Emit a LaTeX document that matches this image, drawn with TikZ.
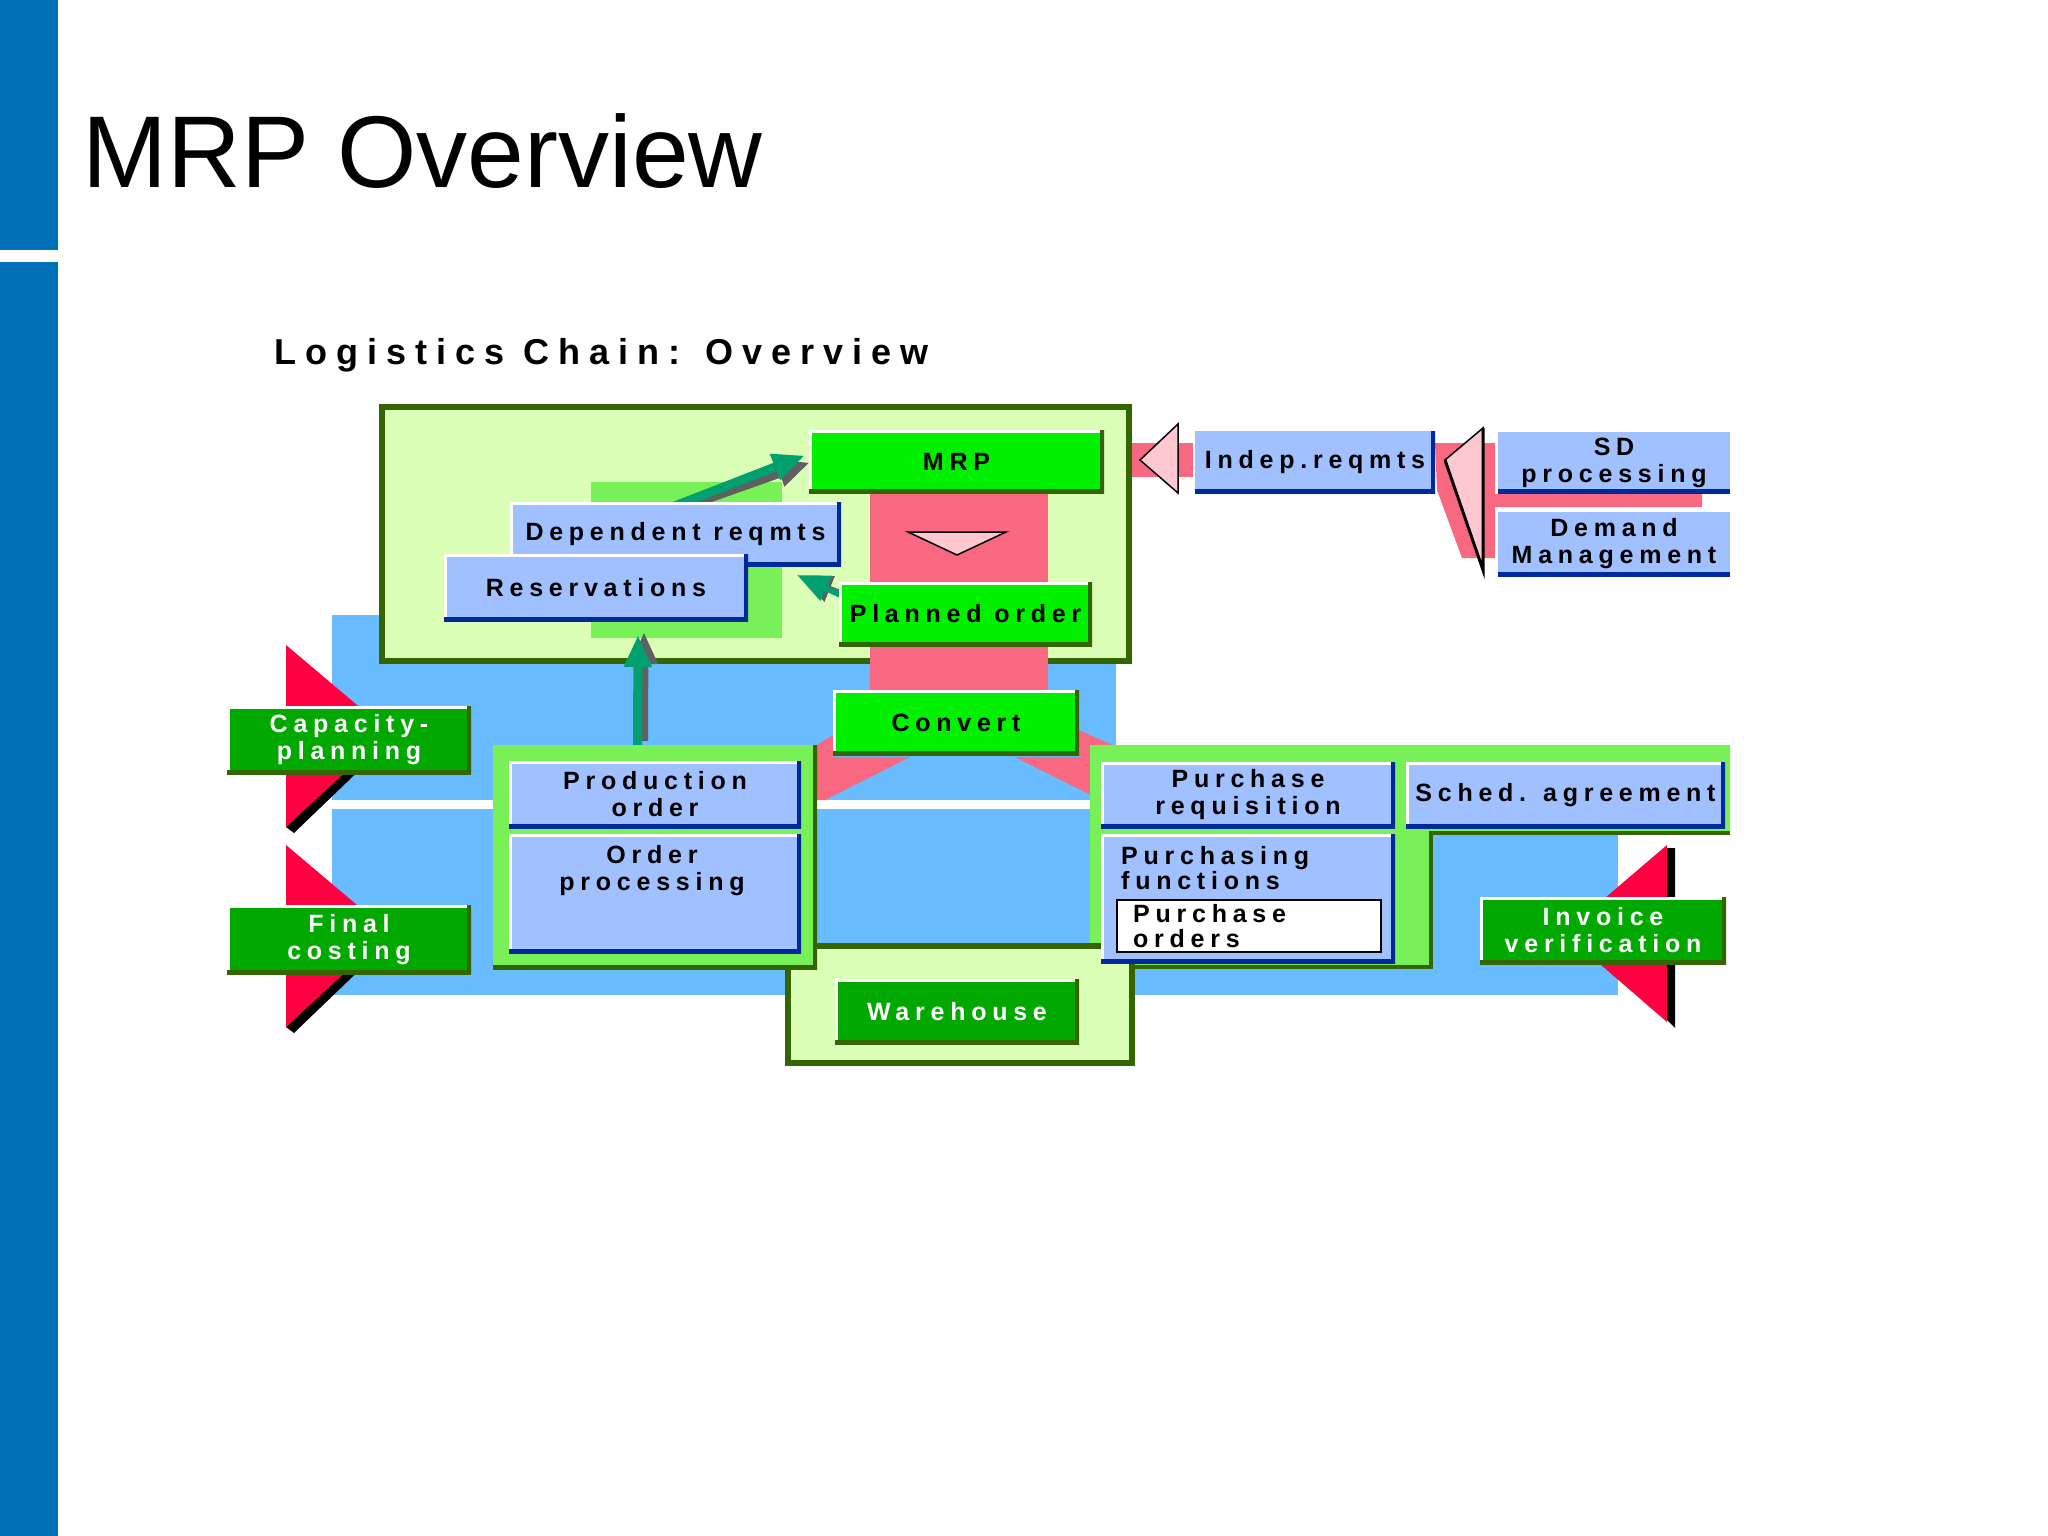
\documentclass[tikz,border=0pt]{standalone}
\usepackage{fontspec}
\setmainfont{Liberation Sans}
\newfontfamily\boxfont[LetterSpace=23]{Liberation Sans}
\newfontfamily\chainfont[LetterSpace=25]{Liberation Sans}
\usetikzlibrary{arrows.meta}

\pgfdeclarelayer{back}
\pgfdeclarelayer{links}
\pgfsetlayers{back,links,main}

\definecolor{sidebar}{HTML}{0070B8}
\definecolor{sky}{HTML}{68BCFF}
\definecolor{rose}{HTML}{F86880}
\definecolor{blush}{HTML}{FFC8D0}
\definecolor{crimson}{HTML}{FF0040}
\definecolor{pale}{HTML}{DCFFB8}
\definecolor{midgreen}{HTML}{78F058}
\definecolor{edge}{HTML}{336600}
\definecolor{bright}{HTML}{00F000}
\definecolor{deep}{HTML}{00A800}
\definecolor{panel}{HTML}{A0C0FF}
\definecolor{navy}{HTML}{002A9A}
\definecolor{teal}{HTML}{00A070}
\definecolor{slate}{HTML}{606060}

\tikzset{
  size/.style 2 args={minimum width=#1pt,minimum height=#2pt},
  bevel/.style 2 args={path picture={
    \draw[#1,line width=6pt] (path picture bounding box.south west)
      -- (path picture bounding box.north west) -- (path picture bounding box.north east);
    \draw[#2,line width=9pt] (path picture bounding box.south west)
      -- (path picture bounding box.south east) -- (path picture bounding box.north east);
  }},
  box/.style={inner sep=0pt,align=center,font=\boxfont\bfseries\fontsize{25}{27}\selectfont},
  panelbox/.style={box,fill=panel,bevel={white}{navy}},
  flatbox/.style={box,fill=panel,path picture={
    \draw[navy,line width=9pt] (path picture bounding box.south west)
      -- (path picture bounding box.south east);
  }},
  brightbox/.style={box,fill=bright,bevel={white}{edge}},
  deepbox/.style={box,fill=deep,text=white,bevel={white}{edge}},
  frame/.style={draw=edge,fill=pale,line width=6pt,inner sep=0pt},
  block/.style={fill=midgreen,inner sep=0pt,bevel={midgreen}{edge}},
  marker/.style={draw=black,fill=blush,line width=1.5pt,line join=miter},
  flow/.style={teal,line width=9pt,-{Triangle[length=32pt,width=26pt]}},
  flowshade/.style={slate,line width=9pt,-{Triangle[length=32pt,width=26pt]}},
  note/.style={inner sep=0pt,anchor=west,align=left,font=\boxfont\bfseries\fontsize{25}{25}\selectfont}
}

\begin{document}
\begin{tikzpicture}[x=1pt,y=-1pt]
  \useasboundingbox (0,0) rectangle (2048,1536);

  \begin{pgfonlayer}{back}
    % slide
    \fill[sidebar] (0,0) rectangle (57.5,250);
    \fill[sidebar] (0,262) rectangle (57.5,1536);
    \node[inner sep=0pt,anchor=base west,font=\fontsize{102}{110}\selectfont] (title) at (82.5,187) {MRP Overview};
    \node[inner sep=0pt,anchor=base west,font=\chainfont\bfseries\fontsize{36}{38}\selectfont] (chain) at (274,364) {Logistics Chain: Overview};

    % blue bands
    \fill[sky] (332,615) rectangle (1116,800);
    \fill[sky] (332,809) rectangle (1618,995);

    % side triangles
    \fill[black] (379,732) -- (399,732) -- (294,833) -- (286,827) -- cycle;
    \fill[crimson] (286,645) -- (389,732) -- (286,827) -- cycle;
    \fill[black] (379,932) -- (399,932) -- (294,1033) -- (286,1027) -- cycle;
    \fill[crimson] (286,845) -- (389,932) -- (286,1027) -- cycle;
    \fill[black] (1667,848) -- (1675,848) -- (1675,1028) -- (1667,1020) -- cycle;
    \fill[crimson] (1667,845) -- (1564,933) -- (1667,1022) -- cycle;

    % rose links
    \fill[rose] (833,735) -- (817,745) -- (817,800) -- (825,800) -- (910,757) -- (833,757) -- cycle;
    \fill[rose] (1079,730) -- (1112,745) -- (1091,795) -- (1015,757) -- (1079,757) -- cycle;
    \fill[rose] (1132,443) rectangle (1193,477);
    \fill[rose] (1435,443) -- (1495,443) -- (1495,494) -- (1702,494) -- (1702,507)
      -- (1495,507) -- (1495,558) -- (1462,558) -- (1437,490) -- cycle;

    % logistics frames
    \node[frame,size={747}{254}] (mrpframe) at (755.5,534) {};
    \node[fill=midgreen,inner sep=0pt,size={191}{156}] (reqsquare) at (686.5,560) {};
    \fill[rose] (870,493) rectangle (1048,695);

    \fill[midgreen] (1090,745) -- (1730,745) -- (1730,834) -- (1433,834) -- (1433,969) -- (1090,969) -- cycle;
    \draw[edge,line width=4pt] (1730,833) -- (1431,833) -- (1431,967) -- (1135,967);
    \node[frame,size={344}{117}] (wareframe) at (960,1004.5) {};
    \node[block,size={324}{224}] (salesblock) at (655,857) {};
  \end{pgfonlayer}

  % boxes
  \node[brightbox,size={295}{63}] (mrp) at (956.5,461.5) {MRP};
  \node[panelbox,size={331}{64}] (dep) at (675.5,534) {Dependent reqmts};
  \node[panelbox,size={304}{67}] (res) at (596,587.5) {Reservations};
  \node[brightbox,size={253}{64}] (plan) at (965.5,614) {Planned order};
  \node[brightbox,size={246}{65}] (conv) at (956,722.5) {Convert};
  \node[deepbox,size={244}{65}] (ware) at (957,1011.5) {Warehouse};
  \node[deepbox,size={244}{68}] (cap) at (349,740) {Capacity-\\planning};
  \node[deepbox,size={244}{69}] (fin) at (349,939.5) {Final\\costing};
  \node[deepbox,size={246}{67}] (inv) at (1603,930.5) {Invoice\\verification};
  \node[panelbox,size={292}{67}] (prod) at (655,794.5) {Production\\order};
  \node[panelbox,size={292}{119}] (ord) at (655,893.5) {};
  \node[box] (ordtext) at (652,871) {Order\\processing};
  \node[panelbox,size={294}{66}] (preq) at (1248,795) {Purchase\\requisition};
  \node[panelbox,size={319}{66}] (sched) at (1565.5,795) {Sched. agreement};
  \node[panelbox,size={294}{129}] (pfun) at (1248,898.5) {};
  \node[note] (pfuntext) at (1121,868) {Purchasing\\functions};
  \node[draw=black,fill=white,line width=1.5pt,inner sep=0pt,size={264}{52}] (pord) at (1249,926) {};
  \node[note] (pordtext) at (1133,926) {Purchase\\orders};
  \node[box,fill=panel,bevel={panel}{navy},size={240}{62}] (indep) at (1315,462) {Indep.reqmts};
  \node[flatbox,size={232}{61}] (sd) at (1614,462.5) {SD\\processing};
  \node[flatbox,size={232}{64}] (dem) at (1614,544) {Demand\\Management};

  % flow markers
  \draw[marker] (1006,532) -- (908,532) -- (957,555) -- cycle;
  \draw[marker] (1178,424) -- (1140,460) -- (1178,493) -- cycle;
  \draw[marker] (1483,428) -- (1445,460) -- (1483,570) -- cycle;
  \draw[black,line width=3pt] (1445,460) -- (1483,570) -- (1483,428);

  % arrows
  \coordinate (prodtip) at (644,632);
  \coordinate (restip) at (797,575);
  \begin{pgfonlayer}{links}
    \draw[flowshade] ([shift={(-16pt,-14pt)}]dep.north) -- ([shift={(1pt,-1pt)}]mrp.west);
    \draw[flow] ([shift={(-26pt,-14pt)}]dep.north) -- ([shift={(-4pt,6pt)}]mrp.west);
    \draw[flowshade] ([shift={(-11.5pt,4pt)}]salesblock.north) -- (prodtip);
    \draw[flow] ([xshift=-17.5pt]salesblock.north) -- ([shift={(-6pt,-3pt)}]prodtip);
    \draw[flowshade,line width=6pt] ([shift={(8pt,-14pt)}]plan.north west) -- ([shift={(3pt,-2pt)}]restip);
    \draw[flow,line width=6pt] ([shift={(6pt,-15pt)}]plan.north west) -- (restip);
  \end{pgfonlayer}
\end{tikzpicture}
\end{document}
